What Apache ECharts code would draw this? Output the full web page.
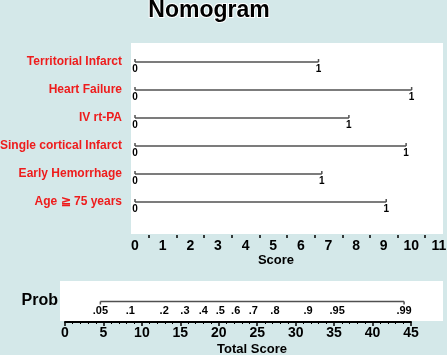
<!DOCTYPE html>
<html>
<head>
<meta charset="utf-8">
<script src="https://cdn.jsdelivr.net/npm/echarts@6/dist/echarts.min.js"></script>
<style>
  html, body { margin: 0; padding: 0; background: #d4e8e9; }
  #chart { width: 447px; height: 355px; }
</style>
</head>
<body>
<div id="chart"></div>
<script>
// predictors and their points when present (value = 1)
const predictors = ['Territorial Infarct', 'Heart Failure', 'IV rt-PA', 'Single cortical Infarct', 'Early Hemorrhage', 'Age \u2267 75 years'];
const pointsAt1 = [6.64, 10.01, 7.74, 9.81, 6.76, 9.09];

// probability scale against total score
const probLabels = ['.05', '.1', '.2', '.3', '.4', '.5', '.6', '.7', '.8', '.9', '.95', '.99'];
const probAtTotal = [4.6, 8.5, 12.9, 15.6, 18.0, 20.2, 22.2, 24.5, 27.3, 31.6, 35.4, 44.1];

const FONT = '"Liberation Sans", Arial, sans-serif';
const LINE = '#505050';

const chart = echarts.init(document.getElementById('chart'));

function renderPredictor(params, api) {
  const row = api.value(1);
  const p0 = api.coord([0, row]);
  const p1 = api.coord([api.value(0), row]);
  const st = { stroke: LINE, lineWidth: 1.5 };
  const txt = (x, y, t) => ({
    type: 'text', x: x, y: y,
    style: { text: t, align: 'center', verticalAlign: 'top', font: 'bold 10px ' + FONT, fill: '#000' }
  });
  return {
    type: 'group',
    children: [
      { type: 'line', shape: { x1: p0[0], y1: p0[1], x2: p1[0], y2: p1[1] }, style: st },
      { type: 'line', shape: { x1: p0[0], y1: p0[1], x2: p0[0], y2: p0[1] - 3 }, style: st },
      { type: 'line', shape: { x1: p1[0], y1: p1[1], x2: p1[0], y2: p1[1] - 3 }, style: st },
      txt(p0[0], p0[1] + 2, '0'),
      txt(p1[0], p1[1] + 2, '1')
    ]
  };
}

function renderProb(params, api) {
  const p = api.coord([api.value(0), api.value(1)]);
  const children = [{
    type: 'text', x: p[0], y: p[1] + 4,
    style: { text: probLabels[params.dataIndex], align: 'center', verticalAlign: 'top', font: 'bold 11px ' + FONT, fill: '#000' }
  }];
  if (params.dataIndex === 0 || params.dataIndex === probLabels.length - 1) {
    children.push({ type: 'line', shape: { x1: p[0], y1: p[1], x2: p[0], y2: p[1] + 3 }, style: { stroke: LINE, lineWidth: 1.5 } });
  }
  return { type: 'group', children: children };
}

const axisBase = {
  z: 10,
  nameLocation: 'middle',
  axisLine: { onZero: false, lineStyle: { color: '#000', width: 2 } },
  axisTick: { length: 4, lineStyle: { color: '#000', width: 1.5 } },
  splitLine: { show: false },
  axisLabel: { fontWeight: 'bold', fontSize: 14, color: '#000', margin: 4 }
};

const option = {
  animation: false,
  textStyle: { fontFamily: FONT },
  graphic: [
    // white panels behind the two scales
    { type: 'rect', z: -10, shape: { x: 131, y: 43, width: 312, height: 191 }, style: { fill: '#fff' }, silent: true },
    { type: 'rect', z: -10, shape: { x: 60, y: 281, width: 383, height: 40 }, style: { fill: '#fff' }, silent: true },
    {
      type: 'text', x: 209, y: 11,
      style: {
        text: 'Nomogram', align: 'center', verticalAlign: 'middle',
        font: 'bold 23px ' + FONT, fill: '#000', stroke: '#fff', lineWidth: 2
      }
    },
    {
      type: 'text', x: 58, y: 301,
      style: { text: 'Prob', align: 'right', verticalAlign: 'middle', font: 'bold 16px ' + FONT, fill: '#000' }
    }
  ],
  grid: [
    { left: 135, right: 8, top: 48, height: 168, outerBoundsMode: 'none' },
    { left: 65, right: 36, top: 281, height: 41, outerBoundsMode: 'none' }
  ],
  xAxis: [Object.assign({}, axisBase, {
    gridIndex: 0,
    type: 'value',
    min: 0, max: 11, interval: 1,
    offset: 19,
    name: 'Score',
    nameGap: 19,
    nameTextStyle: { fontWeight: 'bold', fontSize: 13, color: '#000', padding: [0, 22, 0, 0] },
    minorTick: { show: true, splitNumber: 2, length: 3, lineStyle: { color: '#000', width: 1.5 } }
  }), Object.assign({}, axisBase, {
    gridIndex: 1,
    type: 'value',
    min: 0, max: 45, interval: 5,
    name: 'Total Score',
    nameGap: 21,
    nameTextStyle: { fontWeight: 'bold', fontSize: 13, color: '#000', padding: [0, 0, 0, 28] },
    minorTick: { show: true, splitNumber: 5, length: 2, lineStyle: { color: '#000', width: 1 } }
  })],
  yAxis: [{
    gridIndex: 0,
    type: 'category',
    inverse: true,
    data: predictors,
    axisLine: { show: false },
    axisTick: { show: false },
    splitLine: { show: false },
    axisLabel: { fontWeight: 'bold', fontSize: 12, color: '#ee1c1c', margin: 13 }
  }, {
    gridIndex: 1,
    type: 'value',
    min: 0, max: 1,
    show: false
  }],
  series: [{
    name: 'Points',
    type: 'custom',
    xAxisIndex: 0, yAxisIndex: 0,
    renderItem: renderPredictor,
    data: predictors.map((p, i) => [pointsAt1[i], p])
  }, {
    name: 'Prob line',
    type: 'line',
    xAxisIndex: 1, yAxisIndex: 1,
    symbol: 'none',
    lineStyle: { color: LINE, width: 1.5 },
    data: [[probAtTotal[0], 0.5], [probAtTotal[probAtTotal.length - 1], 0.5]]
  }, {
    name: 'Prob',
    type: 'custom',
    xAxisIndex: 1, yAxisIndex: 1,
    renderItem: renderProb,
    data: probAtTotal.map(v => [v, 0.5])
  }]
};

chart.setOption(option);
</script>
</body>
</html>
